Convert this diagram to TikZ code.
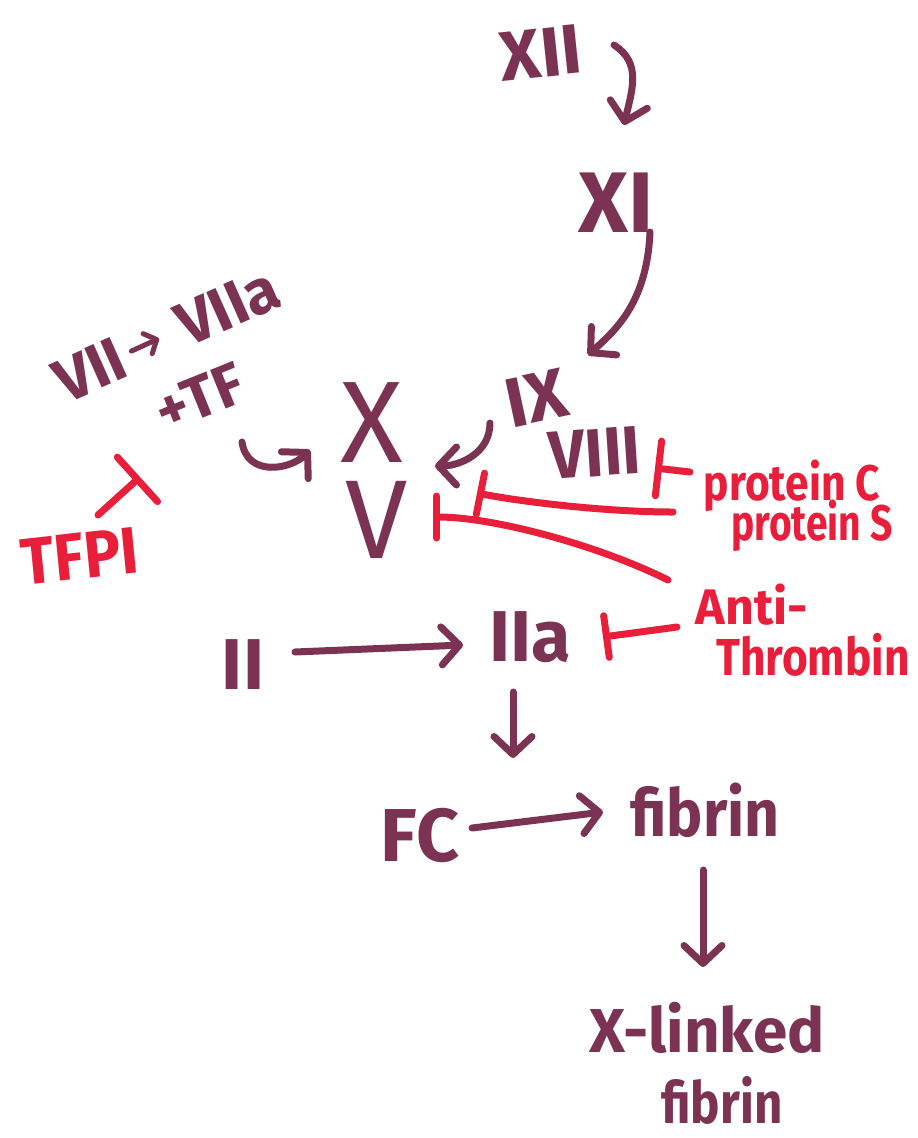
\documentclass[tikz,border=0pt]{standalone}
\usepackage{fontspec}
\setmainfont{Fira Sans}
\usetikzlibrary{arrows.meta,calc}
\definecolor{ink}{RGB}{124,50,82}
\definecolor{redink}{RGB}{232,30,58}
\newcommand\penfont[1]{\fontsize{#1}{#1}\selectfont\bfseries}
\newcommand\thinpen[1]{\fontsize{#1}{#1}\selectfont}
\begin{document}
\begin{tikzpicture}[x=1pt,y=-1pt,
  lbl/.style={inner sep=0pt, text=ink},
  rlbl/.style={inner sep=0pt, text=redink},
  pen/.style={line width=7pt, line cap=round, line join=round, draw=ink},
  act/.style={pen, -{Straight Barb[length=18pt,width=38pt,round]}},
  blk/.style={pen, draw=redink, -{Bar[width=#1,round]}},
  blk/.default=50pt]
\useasboundingbox (0,0) rectangle (918,1138);

% intrinsic pathway
\node[lbl,font=\penfont{70},rotate=6] (XII) at (541,53) {XII};
\node[lbl,font=\penfont{86}] (XI) at (616,203) {XI};
\node[lbl,font=\penfont{70},rotate=12] (IX) at (536,398) {IX};
\node[lbl,font=\penfont{68},xscale=0.93,rotate=4] (VIII) at (595,453) {VIII};

% extrinsic pathway
\node[lbl,font=\penfont{62},rotate=24] (VII) at (90,370) {VII};
\node[lbl,font=\penfont{62},rotate=24] (VIIa) at (228,307) {VIIa};
\node[lbl,font=\penfont{60},rotate=22] (TF) at (200,397) {+TF};
\node[rlbl,font=\penfont{66},xscale=0.93,rotate=6] (TFPI) at (80,556) {TFPI};

% common pathway
\node[lbl,font=\thinpen{116}] (X) at (372,423) {X};
\node[lbl,font=\thinpen{112}] (V) at (377,520) {V};
\node[lbl,font=\penfont{72}] (II) at (243,665) {II};
\node[lbl,font=\penfont{72}] (IIa) at (530,637) {IIa};
\node[lbl,font=\penfont{75}] (FC) at (420,836) {FC};
\node[lbl,font=\penfont{66},xscale=0.92] (fib) at (705,810) {fibrin};
\node[lbl,font=\penfont{62}] (xl) at (707,1028) {X-linked};
\node[lbl,font=\penfont{58},xscale=0.85] (fib2) at (722,1100) {fibrin};

% inhibitors
\node[rlbl,font=\penfont{50},xscale=0.85,anchor=base] (PC) at (792,500) {protein C};
\node[rlbl,font=\penfont{50},xscale=0.78,anchor=base] (PS) at (812,540) {protein S};
\node[rlbl,font=\penfont{50}] (AT) at (752,605) {Anti-};
\node[rlbl,font=\penfont{52},xscale=0.85] (ATb) at (813,655) {Thrombin};

% activation arrows
\draw[act] ($(XII)+(73,-8)$) .. controls +(28,18) and +(8,-35) .. ($(XI)+(8,-78)$);
\draw[act] ($(XI)+(34,29)$) .. controls +(-3,70) and +(28,-25) .. ($(IX)+(52,-43)$);
\draw[act] ($(IX)+(-46,25)$) .. controls +(0,30) and +(25,0) .. ($(X)+(63,43)$);
\draw[act] ($(TF)+(42,45)$) .. controls +(5,35) and +(-20,20) .. ($(X)+(-62,27)$);
\draw[pen, line width=5pt, -{Straight Barb[length=10pt,width=22pt,round]}]
  ($(VII)!0.3!(VIIa)$) -- ($(VII)!0.5!(VIIa)$);
\draw[act] ($(II)+(52,-13)$) -- ($(IIa)+(-67,8)$);
\coordinate (cat) at (513,758);
\draw[act] ($(IIa)+(-17,55)$) -- (cat);
\draw[act] ($(FC)+(52,-8)$) -- ($(fib)+(-102,2)$);
\draw[act] ($(fib)+(-2,60)$) -- ($(xl)+(-4,-61)$);

% inhibition bars
\draw[blk=60pt] ($(TFPI)+(18,-41)$) -- ($(TF)+(-60,80)$);
\draw[blk=55pt] ($(PC.base)+(-102,-28)$) -- ($(VIII)+(60,15)$);
\draw[blk=42pt] ($(PS.base)+(-139,-28)$) .. controls +(-70,0) and +(40,8) .. ($(V)+(100,-27)$);
\draw[blk=42pt] ($(AT)+(-84,-25)$) .. controls +(-70,-35) and +(60,0) .. ($(V)+(56,-3)$);
\draw[blk=42pt] ($(AT)+(-75,22)$) -- ($(IIa)+(73,0)$);
\end{tikzpicture}
\end{document}
